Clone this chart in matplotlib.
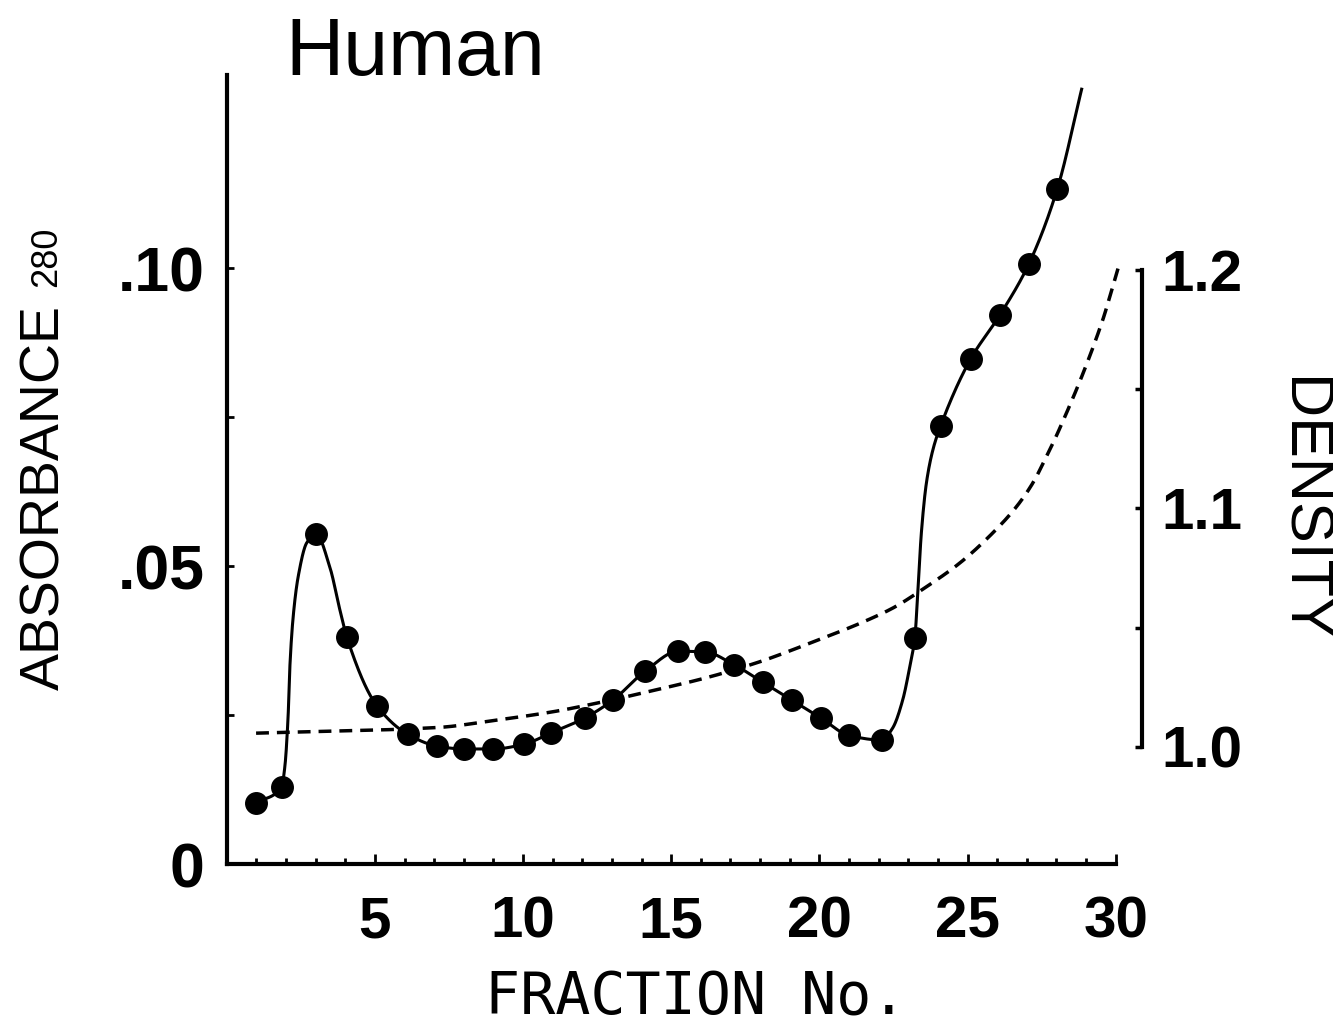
import numpy as np
import matplotlib.pyplot as plt

# A280 of each gradient fraction (filled circles)
fraction = [0.99, 1.85, 3.01, 4.05, 5.06, 6.10, 7.09, 8.00, 8.98, 10.03,
            10.94, 12.08, 13.03, 14.13, 15.24, 16.13, 17.13, 18.09, 19.07, 20.05,
            20.99, 22.10, 23.22, 24.09, 25.10, 26.09, 27.07, 28.03]
absorbance = [0.0103, 0.0129, 0.0554, 0.0381, 0.0266, 0.0218, 0.0198, 0.0193, 0.0193, 0.0201,
              0.0220, 0.0245, 0.0275, 0.0324, 0.0357, 0.0356, 0.0334, 0.0305, 0.0275, 0.0245,
              0.0216, 0.0208, 0.0379, 0.0735, 0.0847, 0.0921, 0.1007, 0.1133]

# extra points along the hand-drawn absorbance curve (steep parts and tail)
curve_x = [1.96, 2.07, 2.13, 2.24, 2.41, 2.70, 3.48, 3.82,
           22.47, 22.81, 23.05, 23.32, 23.44, 23.61, 23.83, 28.85]
curve_y = [0.0163, 0.0247, 0.0331, 0.0414, 0.0482, 0.0539, 0.0498, 0.0426,
           0.0228, 0.0275, 0.0331, 0.0455, 0.0555, 0.0639, 0.0695, 0.1300]

# density gradient (dashed)
density_x = [0.99, 7.14, 9.00, 10.97, 12.72, 14.46, 16.20, 17.95, 19.69, 21.43,
             22.48, 23.61, 24.74, 25.85, 26.65, 27.20, 27.66, 28.04, 29.56, 29.80, 30.13]
density_y = [1.0057, 1.0081, 1.0110, 1.0146, 1.0189, 1.0238, 1.0290, 1.0355, 1.0435, 1.0521,
             1.0582, 1.0671, 1.0771, 1.0897, 1.1007, 1.1106, 1.1217, 1.1316, 1.1790, 1.1888, 1.2029]

x_major = [5, 10, 15, 20, 25, 30]
y_major = [0, 0.05, 0.10]
y_labels = ['0', '.05', '.10']
d_major = [1.0, 1.1, 1.2]
d_labels = ['1.0', '1.1', '1.2']


def pchip(xk, yk, xs):
    # monotone cubic hermite (Fritsch-Carlson) for a smooth pen line
    xk = np.asarray(xk, float)
    yk = np.asarray(yk, float)
    h = np.diff(xk)
    d = np.diff(yk) / h
    m = np.zeros_like(yk)
    m[0], m[-1] = d[0], d[-1]
    for k in range(1, len(xk) - 1):
        if d[k - 1] * d[k] > 0:
            w1 = 2 * h[k] + h[k - 1]
            w2 = h[k] + 2 * h[k - 1]
            m[k] = (w1 + w2) / (w1 / d[k - 1] + w2 / d[k])
    i = np.clip(np.searchsorted(xk, xs) - 1, 0, len(h) - 1)
    t = (xs - xk[i]) / h[i]
    h00 = 2 * t**3 - 3 * t**2 + 1
    h10 = t**3 - 2 * t**2 + t
    h01 = -2 * t**3 + 3 * t**2
    h11 = t**3 - t**2
    return h00 * yk[i] + h10 * h[i] * m[i] + h01 * yk[i + 1] + h11 * h[i] * m[i + 1]


plt.rcParams['font.family'] = ['Liberation Sans', 'DejaVu Sans']

fig = plt.figure(figsize=(13.33, 10.29), dpi=100)
ax = fig.add_axes([0.1701, 0.1603, 0.6669, 0.7668])
ax.set_xlim(0, 30)
ax.set_ylim(0, 0.13238)

for s in ['top', 'right']:
    ax.spines[s].set_visible(False)
for s in ['left', 'bottom']:
    ax.spines[s].set_linewidth(3)

ax.set_xticks(x_major)
ax.set_xticks(range(1, 31), minor=True)
ax.set_xticklabels([str(v) for v in x_major])
ax.set_yticks(y_major)
ax.set_yticks([0.025, 0.075], minor=True)
ax.set_yticklabels(y_labels)
ax.tick_params(axis='both', which='both', direction='in', width=2)
ax.tick_params(axis='x', which='major', length=7, pad=23)
ax.tick_params(axis='x', which='minor', length=4.5)
ax.tick_params(axis='y', which='both', length=5, pad=16)
for lab in ax.get_xticklabels():
    lab.set_fontsize(42)
    lab.set_fontweight('bold')
for lab in ax.get_yticklabels():
    lab.set_fontsize(45)
    lab.set_fontweight('bold')

# smooth pen line through the circles
kx = np.array(fraction + curve_x)
ky = np.array(absorbance + curve_y)
order = np.argsort(kx)
xs = np.linspace(kx.min(), kx.max(), 2000)
ax.plot(xs, pchip(kx[order], ky[order], xs), color='black', lw=2.2, zorder=3)
ax.plot(fraction, absorbance, 'o', color='black', ms=15.5, zorder=4)

# density scale on the right
ax2 = ax.twinx()
ax2.set_ylim(0.95079, 1.28181)
for s in ['top', 'left', 'bottom']:
    ax2.spines[s].set_visible(False)
ax2.spines['right'].set_position(('axes', 1.0295))
ax2.spines['right'].set_bounds(1.0, 1.2)
ax2.spines['right'].set_linewidth(3)
ax2.set_yticks(d_major)
ax2.set_yticks([1.05, 1.15], minor=True)
ax2.set_yticklabels(d_labels)
ax2.tick_params(axis='y', which='both', direction='in', length=5, width=2.5, pad=14)
for lab in ax2.get_yticklabels():
    lab.set_fontsize(42)
    lab.set_fontweight('bold')

dx = np.linspace(density_x[0], density_x[-1], 800)
ax2.plot(dx, pchip(density_x, density_y, dx), color='black', lw=2.5,
         dashes=(3.7, 2.3), clip_on=False)

W, H = 1333, 1029
fig.text(285 / W, 1 - 75 / H, 'Human', fontsize=58, ha='left', va='baseline')
fig.text(696 / W, 1 - 1014 / H, 'FRACTION No.', family='DejaVu Sans Mono',
         fontsize=42, ha='center', va='baseline')
fig.text(45 / W, 1 - 497 / H, 'ABSORBANCE', fontsize=40, rotation=90,
         ha='center', va='center')
fig.text(47 / W, 1 - 257 / H, '280', fontsize=26, rotation=90,
         ha='center', va='center')
fig.text(1301 / W, 1 - 509 / H, 'DENSITY', fontsize=44, rotation=-90,
         ha='center', va='center')

fig.savefig('out.png', dpi=100, facecolor='white')
